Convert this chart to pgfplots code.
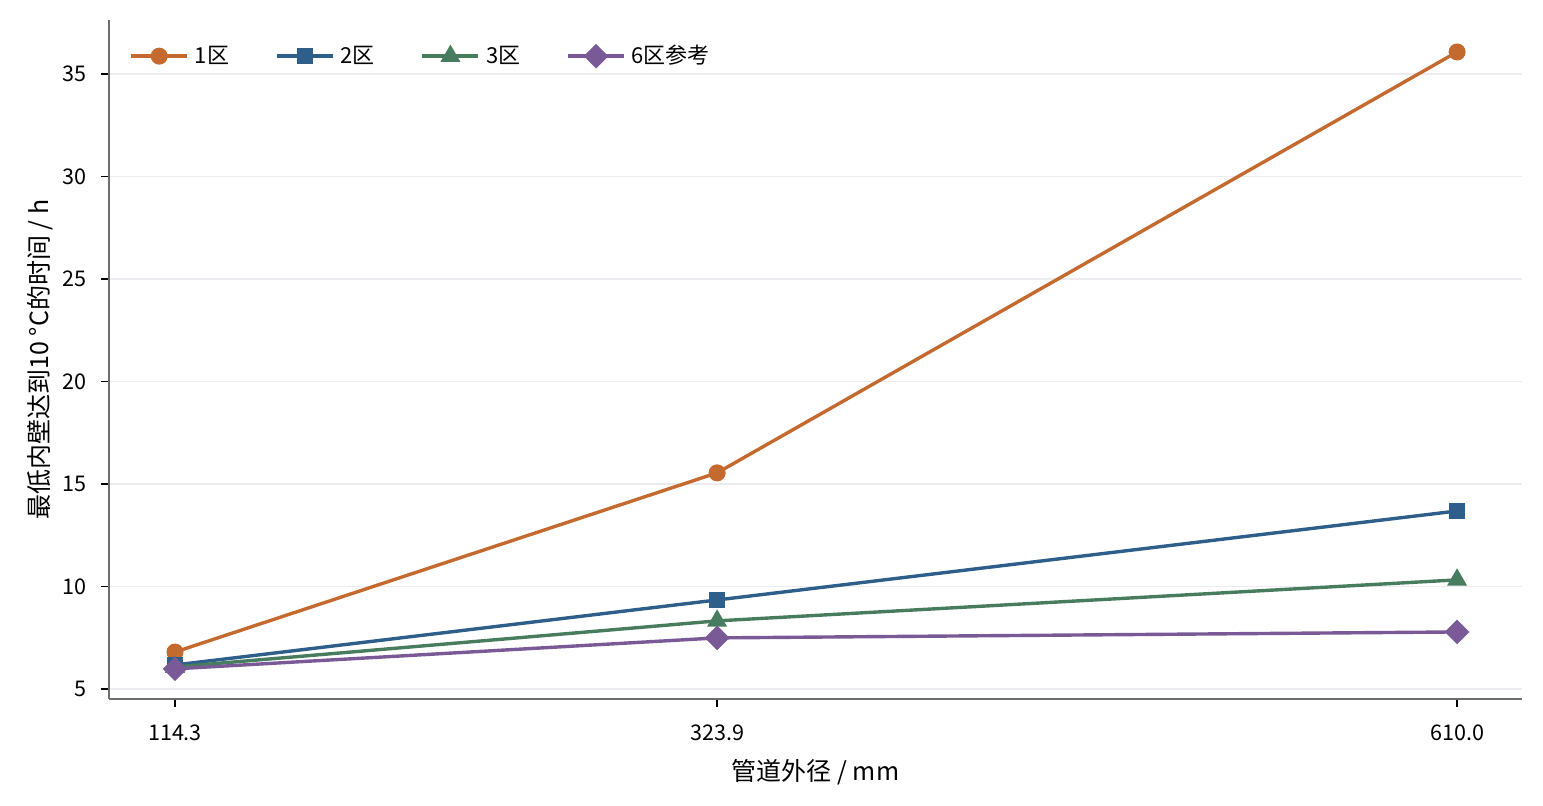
\documentclass[border=0pt]{standalone}
\usepackage{fontspec}
\setmainfont{Noto Sans CJK SC}
\usepackage{pgfplots}
\pgfplotsset{compat=1.18}
\definecolor{c1}{RGB}{196,106,46}
\definecolor{c2}{RGB}{46,94,138}
\definecolor{c3}{RGB}{72,124,94}
\definecolor{c4}{RGB}{122,90,150}
\definecolor{gridc}{RGB}{235,235,240}
\definecolor{spine}{RGB}{110,110,110}
\begin{document}
\begin{tikzpicture}
\begin{axis}[
  scale only axis,
  width=706.5pt, height=339.5pt,
  xmin=88.78, xmax=635.1,
  ymin=4.51, ymax=37.63,
  axis x line*=bottom, axis y line*=left,
  axis line style={spine, line width=0.8pt},
  xtick={114.3,323.9,610.0},
  xticklabels={114.3,323.9,610.0},
  ytick={5,10,15,20,25,30,35},
  tick align=outside,
  major tick length=4pt,
  tick style={black, line width=0.8pt},
  ymajorgrids,
  grid style={gridc, line width=0.8pt},
  /pgf/number format/assume math mode=true,
  tick label style={font=\fontsize{10.8}{12}\selectfont},
  xticklabel style={yshift=-5.5pt},
  yticklabel style={xshift=-3.5pt},
  xlabel={管道外径 / mm},
  ylabel={最低内壁达到10 °C的时间 / h},
  label style={font=\fontsize{12.5}{14}\selectfont},
  xlabel style={yshift=-2.5pt},
  ylabel style={yshift=-2pt},
  legend style={at={(0.01,0.975)}, anchor=north west, draw=none, fill=none,
    legend columns=4, font=\fontsize{11}{13}\selectfont,
    /tikz/every even column/.append style={column sep=20pt},
    nodes={inner xsep=3pt}},
  legend cell align=left,
  legend image code/.code={
    \draw[#1, mark repeat=2, mark phase=2] plot coordinates {(0pt,0pt) (14pt,0pt) (28pt,0pt)};
  },
  every axis plot/.append style={line width=1.7pt},
  clip=false,
]
\coordinate (ll) at (rel axis cs:0,0);
\addplot[c1, mark=*, mark size=3.4pt] coordinates {(114.3,6.80) (323.9,15.54) (610.0,36.07)};
\addlegendentry{1区}
\addplot[c2, mark=square*, mark size=3.3pt] coordinates {(114.3,6.17) (323.9,9.34) (610.0,13.68)};
\addlegendentry{2区}
\addplot[c3, mark=triangle*, mark size=4.1pt] coordinates {(114.3,6.07) (323.9,8.32) (610.0,10.32)};
\addlegendentry{3区}
\addplot[c4, mark=square*, mark size=3.5pt, mark options={rotate=45}] coordinates {(114.3,5.98) (323.9,7.49) (610.0,7.78)};
\addlegendentry{6区参考}
\end{axis}
\pgfresetboundingbox
\path[use as bounding box] (ll) ++(-54.5pt,-53.5pt) rectangle ++(771.5pt,403pt);
\end{tikzpicture}
\end{document}
